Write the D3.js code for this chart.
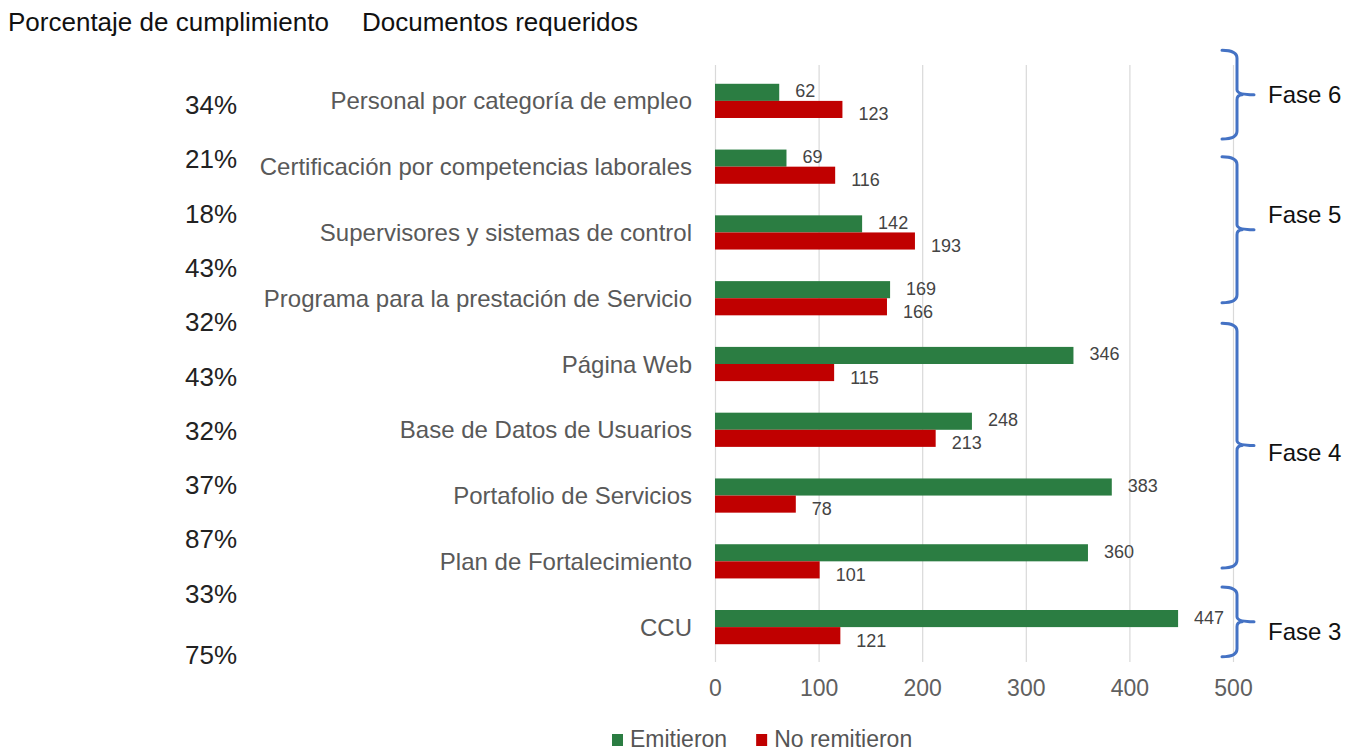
<!DOCTYPE html>
<html>
<head>
<meta charset="utf-8">
<script src="https://cdn.jsdelivr.net/npm/d3@7"></script>
<style>
  html, body { margin: 0; padding: 0; background: #fff; }
  svg { display: block; }
  text { font-family: "Liberation Sans", Arial, sans-serif; }
</style>
</head>
<body>
<svg id="chart" width="1353" height="751"></svg>
<script>
// Documentos requeridos por fase
const categories = [
  "Personal por categoría de empleo",
  "Certificación por competencias laborales",
  "Supervisores y sistemas de control",
  "Programa para la prestación de Servicio",
  "Página Web",
  "Base de Datos de Usuarios",
  "Portafolio de Servicios",
  "Plan de Fortalecimiento",
  "CCU"
];
const emitieron   = [62, 69, 142, 169, 346, 248, 383, 360, 447];
const noRemitieron = [123, 116, 193, 166, 115, 213, 78, 101, 121];
const seriesNames = ["Emitieron", "No remitieron"];
const seriesColors = ["#2b7d42", "#c00000"];
const xTicks = [0, 100, 200, 300, 400, 500];

// Porcentaje de cumplimiento column
const percentages = ["34%", "21%", "18%", "43%", "32%", "43%", "32%", "37%", "87%", "33%", "75%"];

// Phase brackets, spans in row units (0 = top of first row, 9 = bottom of last)
const phaseNames = ["Fase 6", "Fase 5", "Fase 4", "Fase 3"];
const phaseFrom  = [-0.27, 1.35, 3.88, 7.89];
const phaseTo    = [1.08, 3.57, 7.60, 8.95];
const phaseLabelAt = [0.40, 2.22, 5.84, 8.57];

const svg = d3.select("#chart");
svg.append("rect").attr("width", 1353).attr("height", 751).attr("fill", "#fff");

const x = d3.scaleLinear().domain([0, 500]).range([715, 1233]);
const y = d3.scaleBand().domain(categories).range([68, 660]).paddingInner(0.48).paddingOuter(0.24);
const rows = d3.scaleLinear().domain([0, categories.length]).range([68, 660]);
const sub = d3.scaleBand().domain(seriesNames).range([0, y.bandwidth()]);

// Headers
svg.append("text").attr("x", 8).attr("y", 22).attr("dominant-baseline", "central")
  .attr("font-size", 26).attr("fill", "#111").text("Porcentaje de cumplimiento");
svg.append("text").attr("x", 362).attr("y", 22).attr("dominant-baseline", "central")
  .attr("font-size", 26).attr("fill", "#111").text("Documentos requeridos");

// Gridlines
const grid = svg.append("g").attr("transform", "translate(0,662)")
  .call(d3.axisBottom(x).tickValues(xTicks).tickSize(-597).tickFormat(""));
grid.select(".domain").remove();
grid.selectAll(".tick line").attr("stroke", "#d9d9d9").attr("stroke-width", 1.2);

// Value axis labels
const xAxis = svg.append("g").attr("transform", "translate(0,676)")
  .call(d3.axisBottom(x).tickValues(xTicks).tickSize(0).tickPadding(0));
xAxis.select(".domain").remove();
xAxis.selectAll(".tick text").attr("font-size", 23).attr("fill", "#606060")
  .attr("font-family", "Liberation Sans, Arial, sans-serif")
  .attr("dy", null).attr("y", 12).attr("dominant-baseline", "central");

// Category axis labels
const yAxis = svg.append("g").attr("transform", "translate(692,0)")
  .call(d3.axisLeft(y).tickSize(0).tickPadding(0));
yAxis.select(".domain").remove();
yAxis.selectAll(".tick text").attr("font-size", 24).attr("fill", "#595959")
  .attr("font-family", "Liberation Sans, Arial, sans-serif")
  .attr("dy", null).attr("dominant-baseline", "central");

// Bars
const data = categories.map((c, i) => ({ c, vals: [emitieron[i], noRemitieron[i]] }));
const groups = svg.append("g").selectAll("g").data(data).join("g")
  .attr("transform", d => `translate(0,${y(d.c)})`);
groups.selectAll("rect").data(d => d.vals.map((v, k) => ({ v, k })))
  .join("rect")
  .attr("x", x(0))
  .attr("y", d => sub(seriesNames[d.k]))
  .attr("width", d => x(d.v) - x(0))
  .attr("height", sub.bandwidth())
  .attr("fill", d => seriesColors[d.k]);
groups.selectAll("text").data(d => d.vals.map((v, k) => ({ v, k })))
  .join("text")
  .attr("x", d => x(d.v) + 16)
  .attr("y", d => sub(seriesNames[d.k]) + sub.bandwidth() / 2 + (d.k === 0 ? -1 : 5))
  .attr("dominant-baseline", "central")
  .attr("font-size", 18).attr("fill", "#444")
  .text(d => d.v);

// Percentages column
svg.append("g").selectAll("text").data(percentages).join("text")
  .attr("x", 185)
  .attr("y", (d, i) => 105 + i * 54.3 + (i === percentages.length - 1 ? 7 : 0))
  .attr("dominant-baseline", "central")
  .attr("font-size", 26).attr("fill", "#222")
  .text(d => d);

// Phase brackets
const xv = 1237;
function brace(top, bottom, mid) {
  const p = d3.path();
  p.moveTo(xv - 15, top);
  p.quadraticCurveTo(xv, top, xv, top + 8);
  p.lineTo(xv, mid - 5);
  p.quadraticCurveTo(xv, mid, xv + 17, mid);
  p.moveTo(xv + 5, mid);
  p.quadraticCurveTo(xv, mid, xv, mid + 5);
  p.lineTo(xv, bottom - 8);
  p.quadraticCurveTo(xv, bottom, xv - 15, bottom);
  return p.toString();
}
const phases = phaseNames.map((n, i) => ({ n, from: phaseFrom[i], to: phaseTo[i], at: phaseLabelAt[i] }));
const pg = svg.append("g");
pg.selectAll("path").data(phases).join("path")
  .attr("d", d => brace(rows(d.from), rows(d.to), (rows(d.from) + rows(d.to)) / 2))
  .attr("fill", "none").attr("stroke", "#4472c4").attr("stroke-width", 3)
  .attr("stroke-linecap", "round");
pg.selectAll("text").data(phases).join("text")
  .attr("x", 1268).attr("y", d => rows(d.at))
  .attr("dominant-baseline", "central")
  .attr("font-family", "Lato, 'Open Sans', sans-serif")
  .attr("font-size", 24).attr("fill", "#111")
  .text(d => d.n);

// Legend
const legend = svg.append("g").attr("transform", "translate(612,739)");
let lx = 0;
seriesNames.forEach((name, k) => {
  legend.append("rect").attr("x", lx).attr("y", -5).attr("width", 11).attr("height", 12)
    .attr("fill", seriesColors[k]);
  const t = legend.append("text").attr("x", lx + 18).attr("y", 0)
    .attr("dominant-baseline", "central")
    .attr("font-size", 23).attr("fill", "#555").text(name);
  lx += 18 + t.node().getComputedTextLength() + 29;
});
</script>
</body>
</html>
